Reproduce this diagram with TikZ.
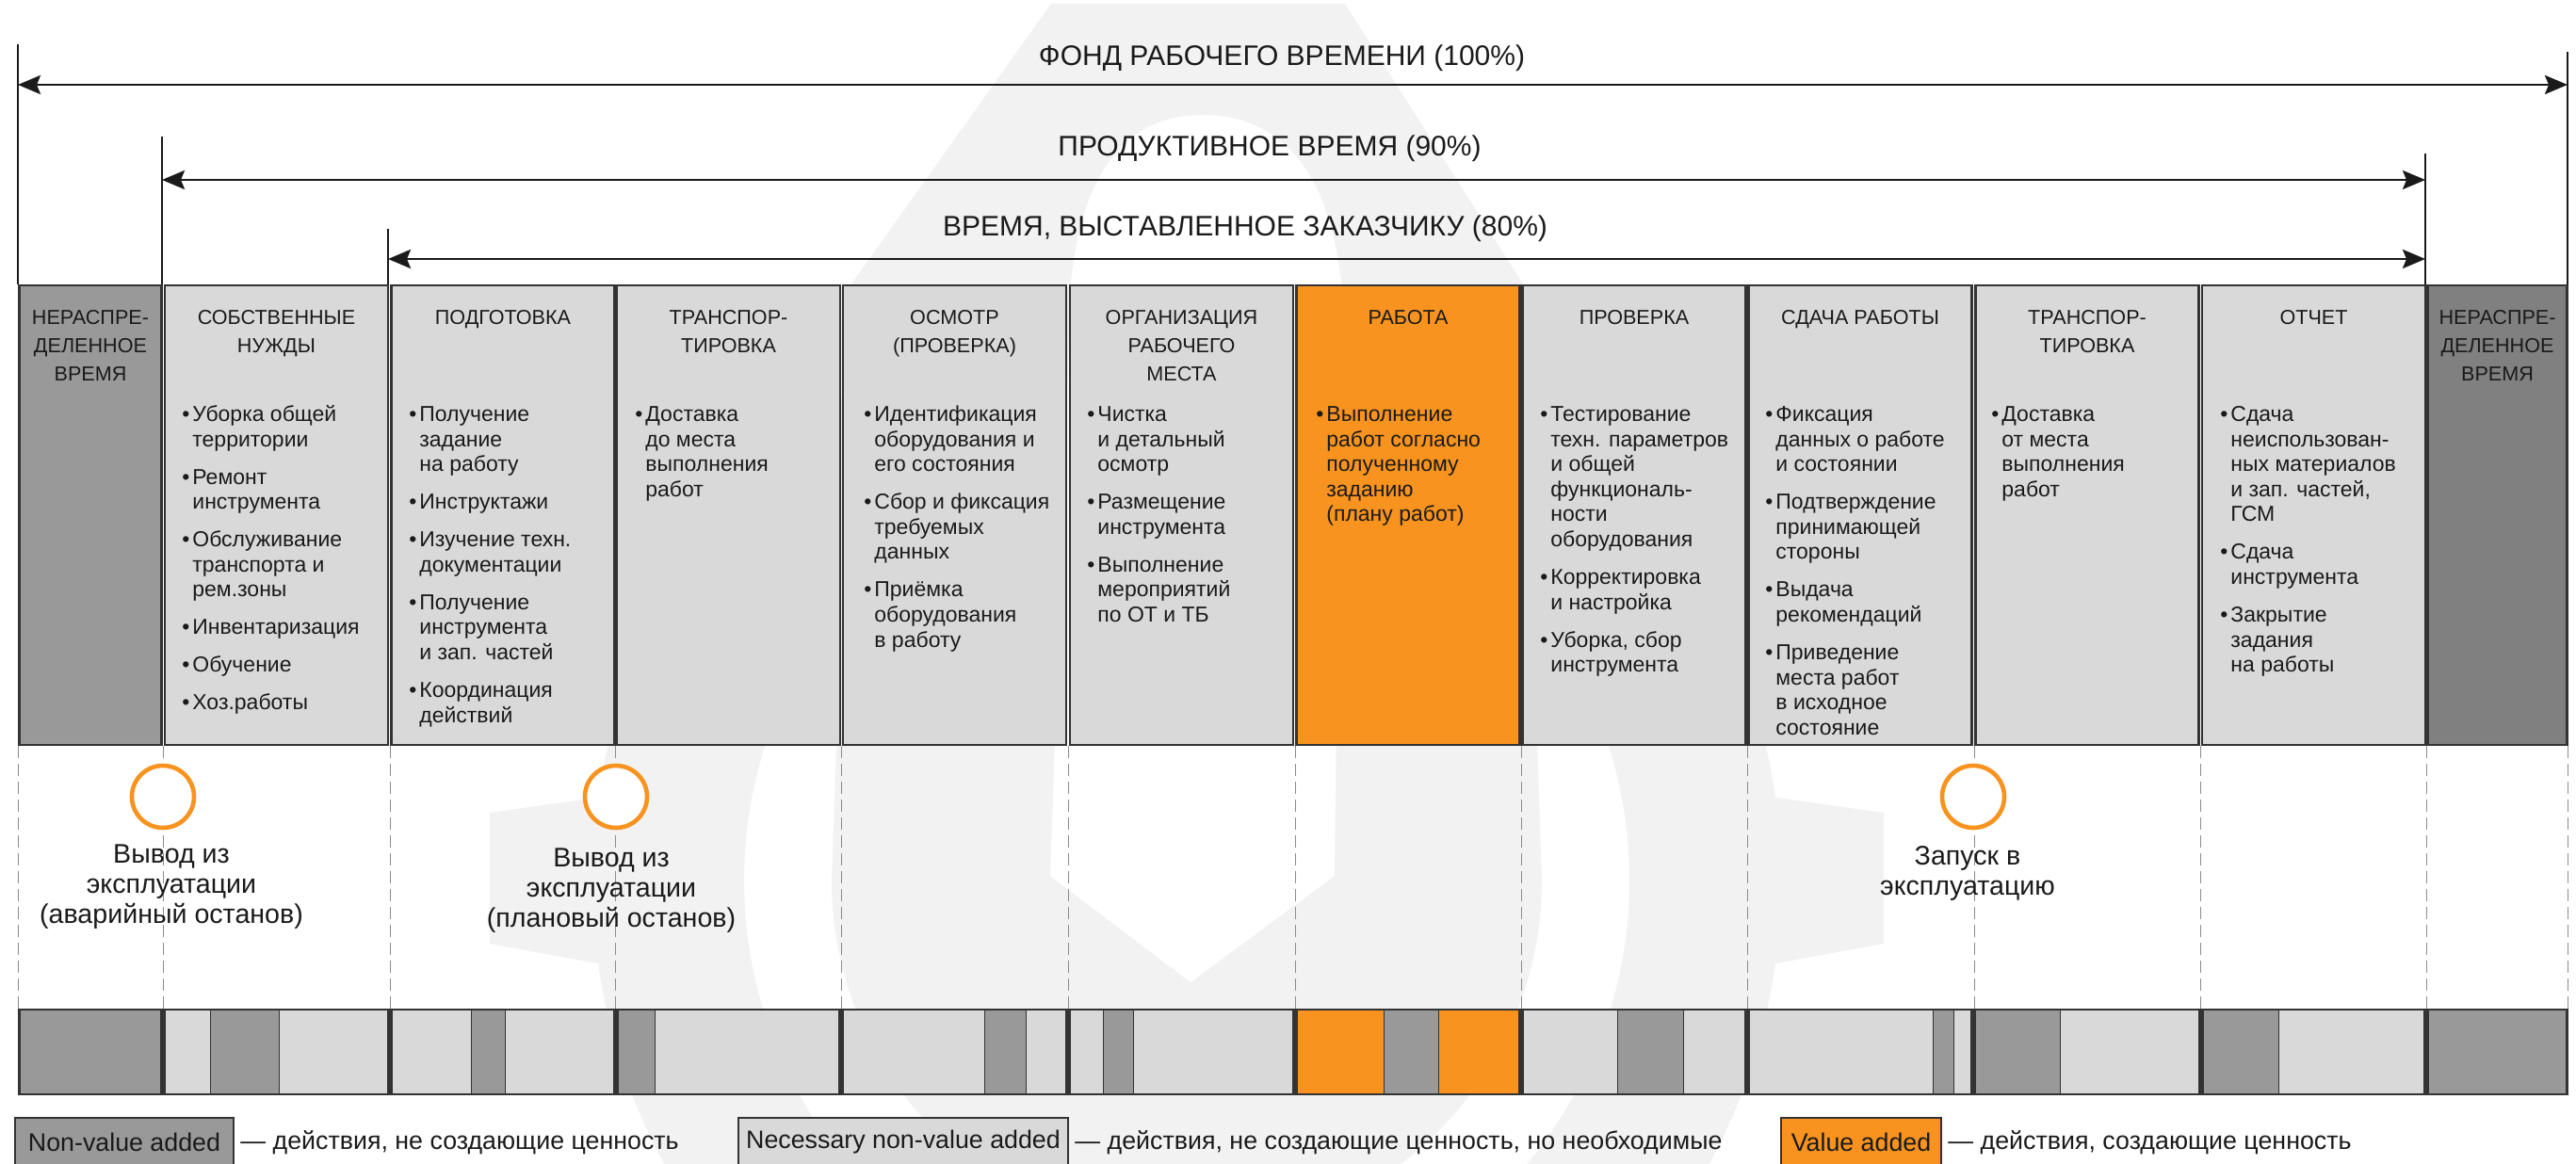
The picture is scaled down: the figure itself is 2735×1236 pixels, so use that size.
\documentclass[tikz,border=0pt]{standalone}
\usepackage{fontspec}
\setmainfont{Liberation Sans}
\usetikzlibrary{arrows.meta,positioning}
\definecolor{nvgray}{HTML}{999999}
\definecolor{nvdark}{HTML}{808080}
\definecolor{nnvgray}{HTML}{D9D9D9}
\definecolor{vaorange}{HTML}{F7931E}
\definecolor{framegray}{HTML}{333333}
\definecolor{textblack}{HTML}{1A1A1A}
\definecolor{dashgray}{HTML}{8C8C8C}
\definecolor{markgray}{HTML}{F2F2F2}

\newcommand{\bulitem}{\strut\makebox[5.5pt][l]{\textbullet}}
\newcommand{\bulcont}{\strut\hspace*{5.5pt}}
\newcommand{\nxt}{\\[6.7pt]}

\begin{document}
\begin{tikzpicture}[x=0.5pt, y=-0.5pt, text=textblack,
  >={Stealth[length=12pt,width=10pt,inset=2pt]},
  colbox/.style={draw=framegray, line width=1.2pt, minimum width=118.5pt, minimum height=244pt, inner sep=0pt},
  headtext/.style={anchor=north, align=center, inner sep=0pt, font=\fontsize{10.8pt}{15pt}\selectfont},
  bodytext/.style={anchor=north west, align=left, inner sep=0pt, font=\fontsize{11.5pt}{13.3pt}\selectfont},
  titletext/.style={inner sep=0pt, font=\fontsize{15pt}{18pt}\selectfont},
  spanarrow/.style={<->, line width=1.4pt, draw=textblack},
  tickline/.style={line width=1.1pt, draw=textblack},
  guideline/.style={draw=dashgray, line width=0.6pt, dash pattern=on 6.5pt off 3pt},
  stopmark/.style={circle, draw=vaorange, fill=white, line width=2.3pt, minimum size=33pt, inner sep=0pt},
  stoplabel/.style={align=center, inner sep=0pt, font=\fontsize{14.3pt}{16pt}\selectfont},
  barseg/.style={draw=framegray, line width=0.5pt},
  bargroup/.style={draw=framegray, line width=1.2pt},
  legbox/.style={draw=framegray, line width=1pt, minimum height=26pt, inner sep=3pt, font=\fontsize{13.4pt}{16pt}\selectfont},
  legtext/.style={anchor=west, inner sep=0pt, font=\fontsize{13.4pt}{16pt}\selectfont}]
\useasboundingbox (0,0) rectangle (2735,1236);

% watermark
\fill[markgray, even odd rule] (1260,935) circle [radius=315.5pt] (1260,935) circle [radius=235pt];
\fill[markgray] (520,863) -- (640,846) -- (640,1024) -- (520,1002) -- cycle;
\fill[markgray] (2000,863) -- (1880,846) -- (1880,1024) -- (2000,1002) -- cycle;
\fill[markgray] (1116,4) -- (1428,4) -- (1616,300) -- (1637,935) arc [start angle=0, end angle=-180, radius=188.5pt] -- (905,300) -- cycle;
\fill[white] (1115,930) -- (1137,300) .. controls (1150,170) and (1205,122) .. (1277,122) .. controls (1350,122) and (1410,170) .. (1424,300) -- (1417,930) -- (1264,1043) -- cycle;

% spans
\node[titletext] (fond) at (1361,62) {ФОНД РАБОЧЕГО ВРЕМЕНИ (100\%)};
\node[titletext] (prod) at (1348,158) {ПРОДУКТИВНОЕ ВРЕМЯ (90\%)};
\node[titletext] (bill) at (1322,243) {ВРЕМЯ, ВЫСТАВЛЕННОЕ ЗАКАЗЧИКУ (80\%)};

\coordinate (fondL) at (19,90);
\coordinate (fondR) at (2726,90);
\coordinate (prodL) at (172,191);
\coordinate (prodR) at (2575,191);
\coordinate (billL) at (412,275);
\coordinate (billR) at (2575,275);

\coordinate (fondLt) at (19,47);
\coordinate (fondRt) at (2726,55);
\coordinate (prodLt) at (172,145);
\coordinate (prodRt) at (2575,163);
\coordinate (billLt) at (412,243);

% columns
\node[colbox, fill=nvgray, minimum width=75.5pt] (c0) at (96,547) {};
\node[colbox, fill=nnvgray] (c1) at (293.5,547) {};
\node[colbox, fill=nnvgray] (c2) at (534,547) {};
\node[colbox, fill=nnvgray] (c3) at (773.5,547) {};
\node[colbox, fill=nnvgray] (c4) at (1013.5,547) {};
\node[colbox, fill=nnvgray] (c5) at (1254.5,547) {};
\node[colbox, fill=vaorange] (c6) at (1495,547) {};
\node[colbox, fill=nnvgray] (c7) at (1735,547) {};
\node[colbox, fill=nnvgray] (c8) at (1975,547) {};
\node[colbox, fill=nnvgray] (c9) at (2216,547) {};
\node[colbox, fill=nnvgray] (c10) at (2456.5,547) {};
\node[colbox, fill=nvdark, minimum width=74pt] (c11) at (2651.5,547) {};

\draw[spanarrow] (fondL) -- (fondR);
\draw[spanarrow] (prodL) -- (prodR);
\draw[spanarrow] (billL) -- (billR);
\draw[tickline] (fondLt) -- (fondLt |- c0.north);
\draw[tickline] (fondRt) -- (fondRt |- c11.north);
\draw[tickline] (prodLt) -- (prodLt |- c1.north);
\draw[tickline] (prodRt) -- (prodRt |- c10.north);
\draw[tickline] (billLt) -- (billLt |- c2.north);

% headers
\node[headtext] (h0) at (96,323) {\strut НЕРАСПРЕ-\\ДЕЛЕННОЕ\\ВРЕМЯ};
\node[headtext] (h1) at (293.5,323) {\strut СОБСТВЕННЫЕ\\НУЖДЫ};
\node[headtext] (h2) at (534,323) {\strut ПОДГОТОВКА};
\node[headtext] (h3) at (773.5,323) {\strut ТРАНСПОР-\\ТИРОВКА};
\node[headtext] (h4) at (1013.5,323) {\strut ОСМОТР\\(ПРОВЕРКА)};
\node[headtext] (h5) at (1254.5,323) {\strut ОРГАНИЗАЦИЯ\\РАБОЧЕГО\\МЕСТА};
\node[headtext] (h6) at (1495,323) {\strut РАБОТА};
\node[headtext] (h7) at (1735,323) {\strut ПРОВЕРКА};
\node[headtext] (h8) at (1975,323) {\strut СДАЧА РАБОТЫ};
\node[headtext] (h9) at (2216,323) {\strut ТРАНСПОР-\\ТИРОВКА};
\node[headtext] (h10) at (2456.5,323) {\strut ОТЧЕТ};
\node[headtext] (h11) at (2651.5,323) {\strut НЕРАСПРЕ-\\ДЕЛЕННОЕ\\ВРЕМЯ};

% bodies
\node[bodytext] (b1) at (193,428.5) {\bulitem Уборка общей\\\bulcont территории\nxt
  \bulitem Ремонт\\\bulcont инструмента\nxt
  \bulitem Обслуживание\\\bulcont транспорта и\\\bulcont рем.зоны\nxt
  \bulitem Инвентаризация\nxt
  \bulitem Обучение\nxt
  \bulitem Хоз.работы};
\node[bodytext] (b2) at (434,428.5) {\bulitem Получение\\\bulcont задание\\\bulcont на работу\nxt
  \bulitem Инструктажи\nxt
  \bulitem Изучение техн.\\\bulcont документации\nxt
  \bulitem Получение\\\bulcont инструмента\\\bulcont и зап. частей\nxt
  \bulitem Координация\\\bulcont действий};
\node[bodytext] (b3) at (674,428.5) {\bulitem Доставка\\\bulcont до места\\\bulcont выполнения\\\bulcont работ};
\node[bodytext] (b4) at (917,428.5) {\bulitem Идентификация\\\bulcont оборудования и\\\bulcont его состояния\nxt
  \bulitem Сбор и фиксация\\\bulcont требуемых\\\bulcont данных\nxt
  \bulitem Приёмка\\\bulcont оборудования\\\bulcont в работу};
\node[bodytext] (b5) at (1154,428.5) {\bulitem Чистка\\\bulcont и детальный\\\bulcont осмотр\nxt
  \bulitem Размещение\\\bulcont инструмента\nxt
  \bulitem Выполнение\\\bulcont мероприятий\\\bulcont по ОТ и ТБ};
\node[bodytext] (b6) at (1397,428.5) {\bulitem Выполнение\\\bulcont работ согласно\\\bulcont полученному\\\bulcont заданию\\\bulcont (плану работ)};
\node[bodytext] (b7) at (1635,428.5) {\bulitem Тестирование\\\bulcont техн. параметров\\\bulcont и общей\\\bulcont функциональ-\\\bulcont ности\\\bulcont оборудования\nxt
  \bulitem Корректировка\\\bulcont и настройка\nxt
  \bulitem Уборка, сбор\\\bulcont инструмента};
\node[bodytext] (b8) at (1874,428.5) {\bulitem Фиксация\\\bulcont данных о работе\\\bulcont и состоянии\nxt
  \bulitem Подтверждение\\\bulcont принимающей\\\bulcont стороны\nxt
  \bulitem Выдача\\\bulcont рекомендаций\nxt
  \bulitem Приведение\\\bulcont места работ\\\bulcont в исходное\\\bulcont состояние};
\node[bodytext] (b9) at (2114,428.5) {\bulitem Доставка\\\bulcont от места\\\bulcont выполнения\\\bulcont работ};
\node[bodytext] (b10) at (2357,428.5) {\bulitem Сдача\\\bulcont неиспользован-\\\bulcont ных материалов\\\bulcont и зап. частей,\\\bulcont ГСМ\nxt
  \bulitem Сдача\\\bulcont инструмента\nxt
  \bulitem Закрытие\\\bulcont задания\\\bulcont на работы};

% guides
\draw[guideline] (c0.south west) -- (c0.south west |- 0,1072);
\draw[guideline] (c1.south west) -- (c1.south west |- 0,1072);
\draw[guideline] (c2.south west) -- (c2.south west |- 0,1072);
\draw[guideline] (c3.south west) -- (c3.south west |- 0,1072);
\draw[guideline] (c4.south west) -- (c4.south west |- 0,1072);
\draw[guideline] (c5.south west) -- (c5.south west |- 0,1072);
\draw[guideline] (c6.south west) -- (c6.south west |- 0,1072);
\draw[guideline] (c7.south west) -- (c7.south west |- 0,1072);
\draw[guideline] (c8.south west) -- (c8.south west |- 0,1072);
\draw[guideline] (c9.south west) -- (c9.south west |- 0,1072);
\draw[guideline] (c10.south west) -- (c10.south west |- 0,1072);
\draw[guideline] (c11.south west) -- (c11.south west |- 0,1072);
\draw[guideline] (c11.south east) -- (c11.south east |- 0,1072);

% stops
\node[stopmark] (stop1) at (173,846) {};
\node[stopmark] (stop2) at (654,846) {};
\node[stopmark] (stop3) at (2095,846) {};
\node[stoplabel, below=6.2pt of stop1, xshift=4.5pt] (stoplab1) {\strut Вывод из\\эксплуатации\\(аварийный останов)};
\node[stoplabel, below=8.2pt of stop2, xshift=-2.5pt] (stoplab2) {\strut Вывод из\\эксплуатации\\(плановый останов)};
\node[stoplabel, below=7.2pt of stop3, xshift=-3pt] (stoplab3) {\strut Запуск в\\эксплуатацию};

% bar
\filldraw[barseg, fill=nvgray] (20.5,1072) rectangle (171.5,1162);

\filldraw[barseg, fill=nnvgray] (174.5,1072) rectangle (223,1162);
\filldraw[barseg, fill=nvgray] (223,1072) rectangle (296,1162);
\filldraw[barseg, fill=nnvgray] (296,1072) rectangle (412.5,1162);

\filldraw[barseg, fill=nnvgray] (415.5,1072) rectangle (500,1162);
\filldraw[barseg, fill=nvgray] (500,1072) rectangle (536,1162);
\filldraw[barseg, fill=nnvgray] (536,1072) rectangle (652.5,1162);

\filldraw[barseg, fill=nvgray] (655.5,1072) rectangle (695,1162);
\filldraw[barseg, fill=nnvgray] (695,1072) rectangle (891.5,1162);

\filldraw[barseg, fill=nnvgray] (894.5,1072) rectangle (1045,1162);
\filldraw[barseg, fill=nvgray] (1045,1072) rectangle (1089,1162);
\filldraw[barseg, fill=nnvgray] (1089,1072) rectangle (1132.5,1162);

\filldraw[barseg, fill=nnvgray] (1135.5,1072) rectangle (1171,1162);
\filldraw[barseg, fill=nvgray] (1171,1072) rectangle (1203,1162);
\filldraw[barseg, fill=nnvgray] (1203,1072) rectangle (1373.5,1162);

\filldraw[barseg, fill=vaorange] (1376.5,1072) rectangle (1469,1162);
\filldraw[barseg, fill=nvgray] (1469,1072) rectangle (1527,1162);
\filldraw[barseg, fill=vaorange] (1527,1072) rectangle (1613.5,1162);

\filldraw[barseg, fill=nnvgray] (1616.5,1072) rectangle (1717,1162);
\filldraw[barseg, fill=nvgray] (1717,1072) rectangle (1787,1162);
\filldraw[barseg, fill=nnvgray] (1787,1072) rectangle (1853.5,1162);

\filldraw[barseg, fill=nnvgray] (1856.5,1072) rectangle (2052,1162);
\filldraw[barseg, fill=nvgray] (2052,1072) rectangle (2074,1162);
\filldraw[barseg, fill=nnvgray] (2074,1072) rectangle (2093.5,1162);

\filldraw[barseg, fill=nvgray] (2096.5,1072) rectangle (2187,1162);
\filldraw[barseg, fill=nnvgray] (2187,1072) rectangle (2335.5,1162);

\filldraw[barseg, fill=nvgray] (2338.5,1072) rectangle (2419,1162);
\filldraw[barseg, fill=nnvgray] (2419,1072) rectangle (2574.5,1162);

\filldraw[barseg, fill=nvgray] (2577.5,1072) rectangle (2725.5,1162);

% bar groups
\draw[bargroup] (20.5,1072) rectangle (171.5,1162);
\draw[bargroup] (174.5,1072) rectangle (412.5,1162);
\draw[bargroup] (415.5,1072) rectangle (652.5,1162);
\draw[bargroup] (655.5,1072) rectangle (891.5,1162);
\draw[bargroup] (894.5,1072) rectangle (1132.5,1162);
\draw[bargroup] (1135.5,1072) rectangle (1373.5,1162);
\draw[bargroup] (1376.5,1072) rectangle (1613.5,1162);
\draw[bargroup] (1616.5,1072) rectangle (1853.5,1162);
\draw[bargroup] (1856.5,1072) rectangle (2093.5,1162);
\draw[bargroup] (2096.5,1072) rectangle (2335.5,1162);
\draw[bargroup] (2338.5,1072) rectangle (2574.5,1162);
\draw[bargroup] (2577.5,1072) rectangle (2725.5,1162);

% legend
\node[legbox, fill=nvgray, minimum width=116pt] (leg1) at (132,1213) {Non-value added};
\node[legtext, right=3pt of leg1] (legt1) {— действия, не создающие ценность};
\node[legbox, fill=nnvgray, minimum width=175pt] (leg2) at (959,1213) {Necessary non-value added};
\node[legtext, right=3pt of leg2] (legt2) {— действия, не создающие ценность, но необходимые};
\node[legbox, fill=vaorange, minimum width=85pt] (leg3) at (1976,1213) {Value added};
\node[legtext, right=3pt of leg3] (legt3) {— действия, создающие ценность};

\end{tikzpicture}
\end{document}
